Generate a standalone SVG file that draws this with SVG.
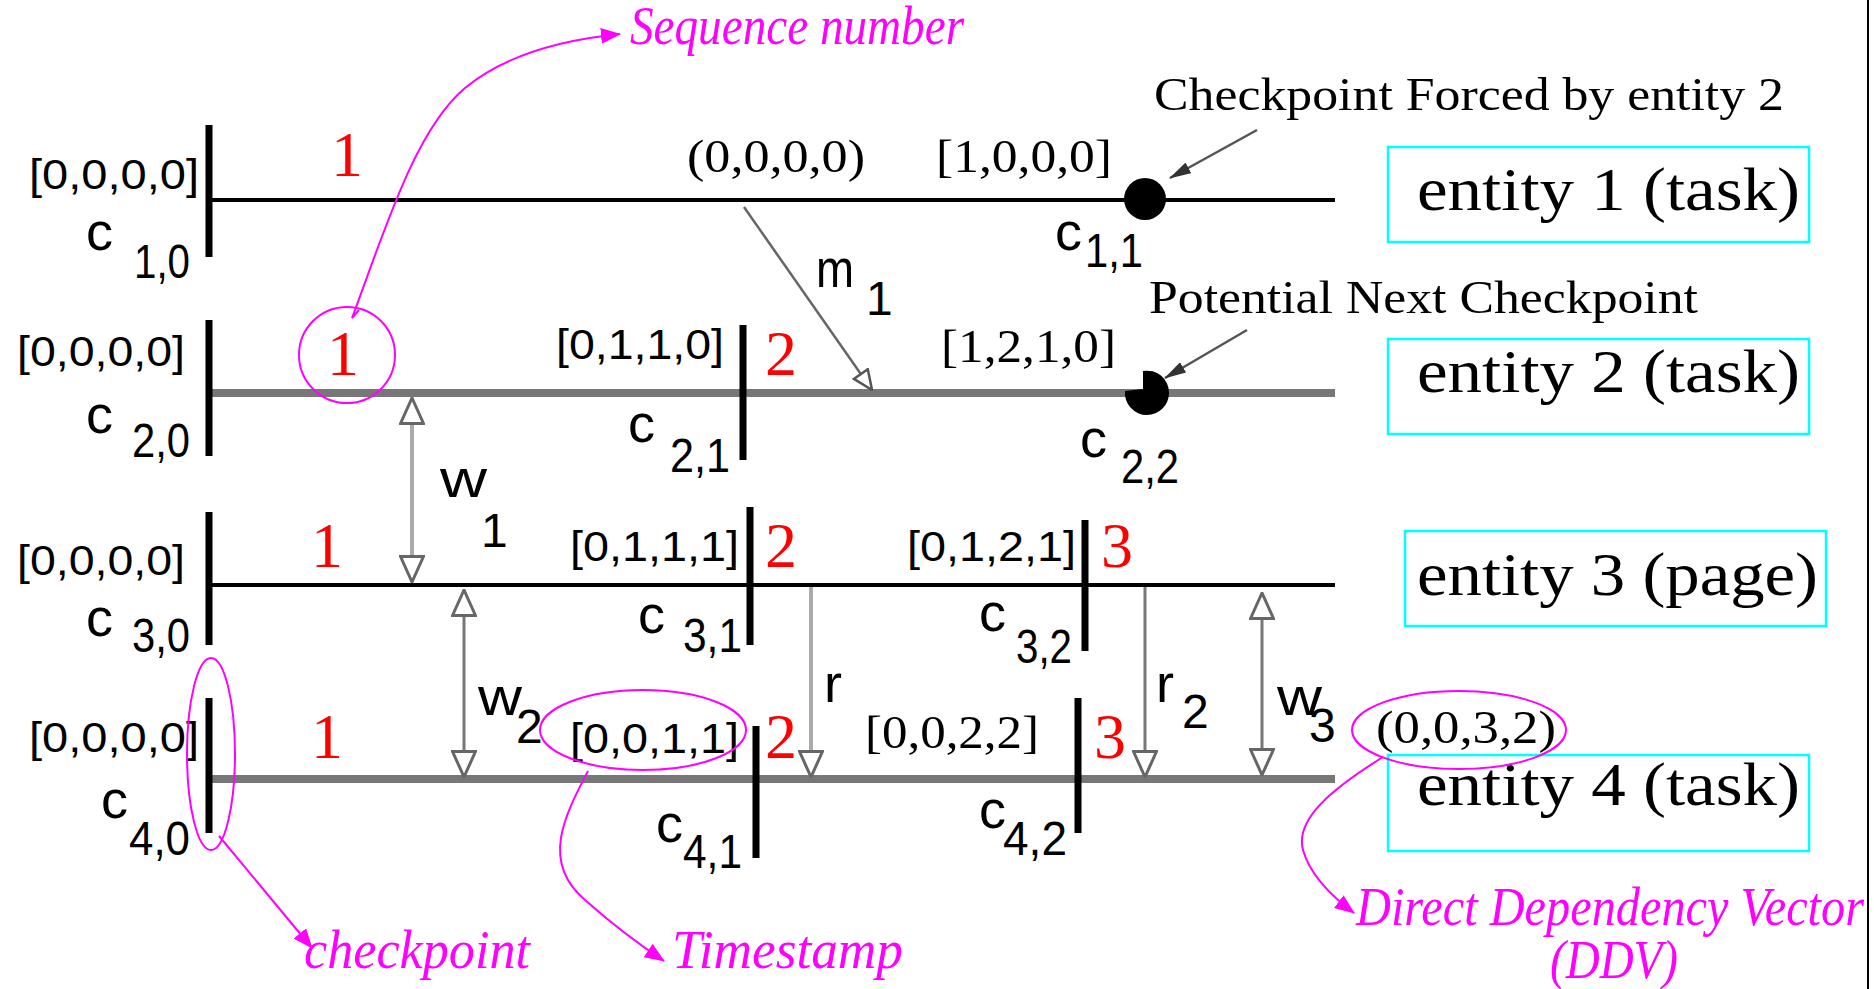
<svg xmlns="http://www.w3.org/2000/svg" width="1874" height="989" viewBox="0 0 1874 989">
<style>
.ser{font-family:"Liberation Serif","Times New Roman",serif;fill:#000}
.san{font-family:"Liberation Sans",Arial,sans-serif;fill:#000;font-size:54px}
.sub{font-family:"Liberation Sans",Arial,sans-serif;fill:#000;font-size:48px}
.vec{font-family:"Liberation Sans",Arial,sans-serif;fill:#000;font-size:43px}
.tv{font-family:"Liberation Serif","Times New Roman",serif;fill:#000;font-size:46px}
.ann{font-family:"Liberation Serif","Times New Roman",serif;fill:#000;font-size:46px}
.ent{font-family:"Liberation Serif","Times New Roman",serif;fill:#000;font-size:62px}
.red{font-family:"Liberation Serif","Times New Roman",serif;fill:#f00;font-size:64px;text-anchor:middle}
.mag{font-family:"Liberation Serif","Times New Roman",serif;font-style:italic;fill:#f0f;font-size:54px}
.box{fill:none;stroke:#0ff;stroke-width:2.5}
.lt{stroke:#000;stroke-width:4;fill:none}
.lg{stroke:#777;stroke-width:8;fill:none}
.bar{stroke:#000;stroke-width:7;fill:none}
.dep{stroke:#777;stroke-width:3;fill:none}
.depl{stroke:#aaa;stroke-width:4;fill:none}
.ell{fill:none;stroke:#f0f;stroke-width:2}
.marr{fill:none;stroke:#f0f;stroke-width:2}
</style>
<defs>
<marker id="hol" viewBox="0 0 28 26" refX="27" refY="13" markerWidth="28" markerHeight="26" markerUnits="userSpaceOnUse" orient="auto-start-reverse">
<path d="M1.5,1.5 L27,13 L1.5,24.5 Z" fill="#fff" stroke="#666" stroke-width="3"/>
</marker>
<marker id="holm" viewBox="0 0 22 20" refX="21" refY="10" markerWidth="22" markerHeight="20" markerUnits="userSpaceOnUse" orient="auto">
<path d="M1.5,1.5 L21,10 L1.5,18.5 Z" fill="#fff" stroke="#555" stroke-width="2.5"/>
</marker>
<marker id="gh" viewBox="0 0 22 12" refX="21" refY="6" markerWidth="22" markerHeight="12" markerUnits="userSpaceOnUse" orient="auto">
<path d="M0,0 L22,6 L0,12 Z" fill="#333"/>
</marker>
<marker id="mh" viewBox="0 0 20 16" refX="19" refY="8" markerWidth="20" markerHeight="16" markerUnits="userSpaceOnUse" orient="auto">
<path d="M0,0 L20,8 L0,16 Z" fill="#f0f"/>
</marker>
</defs>
<rect width="1874" height="989" fill="#fff"/>
<line x1="1868" y1="0" x2="1868" y2="989" stroke="#000" stroke-width="2"/>

<g id="entity1">
<path class="lt" d="M209,200 H1335"/>
<rect class="box" x="1388" y="147" width="421" height="95"/>
<text class="ent" x="1417" y="210" textLength="383" lengthAdjust="spacingAndGlyphs">entity 1 (task)</text>
</g>
<g id="entity2">
<path class="lg" d="M209,393 H1335"/>
<rect class="box" x="1388" y="339" width="421" height="95"/>
<text class="ent" x="1417" y="392" textLength="383" lengthAdjust="spacingAndGlyphs">entity 2 (task)</text>
</g>
<g id="entity3">
<path class="lt" d="M209,585 H1335"/>
<rect class="box" x="1405" y="531" width="421" height="95"/>
<text class="ent" x="1417" y="595" textLength="401" lengthAdjust="spacingAndGlyphs">entity 3 (page)</text>
</g>
<g id="entity4">
<path class="lg" d="M209,779 H1335"/>
<rect class="box" x="1388" y="755" width="421" height="96"/>
<text class="ent" x="1417" y="805" textLength="383" lengthAdjust="spacingAndGlyphs">entity 4 (task)</text>
</g>

<g id="c10">
<path class="bar" d="M209,125 V257"/>
<text class="vec" x="29" y="189" textLength="170" lengthAdjust="spacingAndGlyphs">[0,0,0,0]</text>
<text class="san" x="86" y="250">c</text>
<text class="sub" x="134" y="278" textLength="56" lengthAdjust="spacingAndGlyphs">1,0</text>
<text class="red" x="347" y="176">1</text>
</g>
<g id="c20">
<path class="bar" d="M209,320 V456"/>
<text class="vec" x="17" y="366" textLength="168" lengthAdjust="spacingAndGlyphs">[0,0,0,0]</text>
<text class="san" x="86" y="433">c</text>
<text class="sub" x="132" y="457" textLength="58" lengthAdjust="spacingAndGlyphs">2,0</text>
<text class="red" x="343" y="375">1</text>
</g>
<g id="c30">
<path class="bar" d="M209,512 V645"/>
<text class="vec" x="17" y="575" textLength="168" lengthAdjust="spacingAndGlyphs">[0,0,0,0]</text>
<text class="san" x="86" y="636">c</text>
<text class="sub" x="132" y="652" textLength="58" lengthAdjust="spacingAndGlyphs">3,0</text>
<text class="red" x="327" y="567">1</text>
</g>
<g id="c40">
<path class="bar" d="M209,698 V833"/>
<text class="vec" x="29" y="752" textLength="170" lengthAdjust="spacingAndGlyphs">[0,0,0,0]</text>
<text class="san" x="101" y="818">c</text>
<text class="sub" x="129" y="855" textLength="61" lengthAdjust="spacingAndGlyphs">4,0</text>
<text class="red" x="327" y="758">1</text>
</g>
<g id="c11">
<circle cx="1145" cy="199" r="21" fill="#000"/>
<text class="tv" x="936" y="172" textLength="176" lengthAdjust="spacingAndGlyphs">[1,0,0,0]</text>
<text class="san" x="1055" y="250">c</text>
<text class="sub" x="1085" y="267" textLength="58" lengthAdjust="spacingAndGlyphs">1,1</text>
</g>
<g id="c21">
<path class="bar" d="M743,325 V460"/>
<text class="vec" x="556" y="359" textLength="168" lengthAdjust="spacingAndGlyphs">[0,1,1,0]</text>
<text class="san" x="628" y="442">c</text>
<text class="sub" x="670" y="472" textLength="60" lengthAdjust="spacingAndGlyphs">2,1</text>
<text class="red" x="781" y="375">2</text>
</g>
<g id="c22">
<path d="M1143,371 A22,22 0 0 1 1169,393 A22,22 0 0 1 1147,415 A22,22 0 0 1 1125,391 L1143,389 Z" fill="#000"/>
<text class="tv" x="941" y="362" textLength="175" lengthAdjust="spacingAndGlyphs">[1,2,1,0]</text>
<text class="san" x="1080" y="457">c</text>
<text class="sub" x="1121" y="483" textLength="58" lengthAdjust="spacingAndGlyphs">2,2</text>
</g>
<g id="c31">
<path class="bar" d="M750,507 V645"/>
<text class="vec" x="570" y="561" textLength="169" lengthAdjust="spacingAndGlyphs">[0,1,1,1]</text>
<text class="san" x="638" y="633">c</text>
<text class="sub" x="683" y="652" textLength="59" lengthAdjust="spacingAndGlyphs">3,1</text>
<text class="red" x="781" y="567">2</text>
</g>
<g id="c32">
<path class="bar" d="M1085,520 V651"/>
<text class="vec" x="907" y="561" textLength="169" lengthAdjust="spacingAndGlyphs">[0,1,2,1]</text>
<text class="san" x="979" y="631">c</text>
<text class="sub" x="1016" y="663" textLength="56" lengthAdjust="spacingAndGlyphs">3,2</text>
<text class="red" x="1117" y="567">3</text>
</g>
<g id="c41">
<path class="bar" d="M756,726 V858"/>
<text class="vec" x="570" y="753" textLength="169" lengthAdjust="spacingAndGlyphs">[0,0,1,1]</text>
<text class="san" x="656" y="842">c</text>
<text class="sub" x="683" y="868" textLength="59" lengthAdjust="spacingAndGlyphs">4,1</text>
<text class="red" x="781" y="758">2</text>
</g>
<g id="c42">
<path class="bar" d="M1078,698 V833"/>
<text class="tv" x="865" y="748" textLength="174" lengthAdjust="spacingAndGlyphs">[0,0,2,2]</text>
<text class="san" x="979" y="828">c</text>
<text class="sub" x="1003" y="855" textLength="64" lengthAdjust="spacingAndGlyphs">4,2</text>
<text class="red" x="1110" y="758">3</text>
</g>

<g id="connectors">
<path d="M744,207 L872,390" stroke="#666" stroke-width="2.5" fill="none" marker-end="url(#holm)"/>
<path class="depl" d="M412,398 V582" marker-start="url(#hol)" marker-end="url(#hol)"/>
<path class="dep" d="M464,590 V777" marker-start="url(#hol)" marker-end="url(#hol)"/>
<path class="depl" d="M811,587 V777" marker-end="url(#hol)"/>
<path class="dep" d="M1145,587 V777" marker-end="url(#hol)"/>
<path class="dep" d="M1262,593 V775" marker-start="url(#hol)" marker-end="url(#hol)"/>
<path d="M1257,130 L1170,178" stroke="#555" stroke-width="2.5" fill="none" marker-end="url(#gh)"/>
<path d="M1247,330 L1165,378" stroke="#555" stroke-width="2.5" fill="none" marker-end="url(#gh)"/>
</g>

<g id="connector-labels">
<text class="tv" x="687" y="172" textLength="178" lengthAdjust="spacingAndGlyphs">(0,0,0,0)</text>
<text class="san" x="816" y="287" textLength="38" lengthAdjust="spacingAndGlyphs">m</text>
<text class="sub" x="866" y="315">1</text>
<text class="san" x="440" y="497" textLength="47" lengthAdjust="spacingAndGlyphs">w</text>
<text class="sub" x="481" y="547">1</text>
<text class="san" x="478" y="715" textLength="44" lengthAdjust="spacingAndGlyphs">w</text>
<text class="sub" x="516" y="743">2</text>
<text class="san" x="824" y="702">r</text>
<text class="san" x="1156" y="702">r</text>
<text class="sub" x="1182" y="728">2</text>
<text class="san" x="1277" y="715" textLength="45" lengthAdjust="spacingAndGlyphs">w</text>
<text class="sub" x="1309" y="742">3</text>
<text class="tv" x="1376" y="743" textLength="180" lengthAdjust="spacingAndGlyphs">(0,0,3,2)</text>
<text class="ann" x="1154" y="110" textLength="630" lengthAdjust="spacingAndGlyphs">Checkpoint Forced by entity 2</text>
<text class="ann" x="1149" y="313" textLength="549" lengthAdjust="spacingAndGlyphs">Potential Next Checkpoint</text>
</g>

<g id="annotations">
<circle class="ell" cx="347" cy="355" r="48"/>
<ellipse class="ell" cx="211" cy="754" rx="24" ry="96"/>
<ellipse class="ell" cx="643" cy="730" rx="103" ry="40"/>
<ellipse class="ell" cx="1459" cy="730" rx="107" ry="39"/>
<path class="marr" d="M359,310 L352,318 C385,230 415,130 465,88 C505,55 560,40 620,34" marker-end="url(#mh)"/>
<path class="marr" d="M219,836 L312,948" marker-end="url(#mh)"/>
<path class="marr" d="M588,771 C565,815 540,862 585,900 C612,924 640,945 664,961" marker-end="url(#mh)"/>
<path class="marr" d="M1383,757 C1330,790 1295,820 1303,850 C1310,875 1330,895 1354,913" marker-end="url(#mh)"/>
<text class="mag" x="630" y="44" textLength="334" lengthAdjust="spacingAndGlyphs">Sequence number</text>
<text class="mag" x="304" y="968" textLength="226" lengthAdjust="spacingAndGlyphs">checkpoint</text>
<text class="mag" x="672" y="968" textLength="231" lengthAdjust="spacingAndGlyphs">Timestamp</text>
<text class="mag" x="1356" y="925" textLength="508" lengthAdjust="spacingAndGlyphs">Direct Dependency Vector</text>
<text class="mag" x="1550" y="978" textLength="128" lengthAdjust="spacingAndGlyphs">(DDV)</text>
</g>
</svg>
